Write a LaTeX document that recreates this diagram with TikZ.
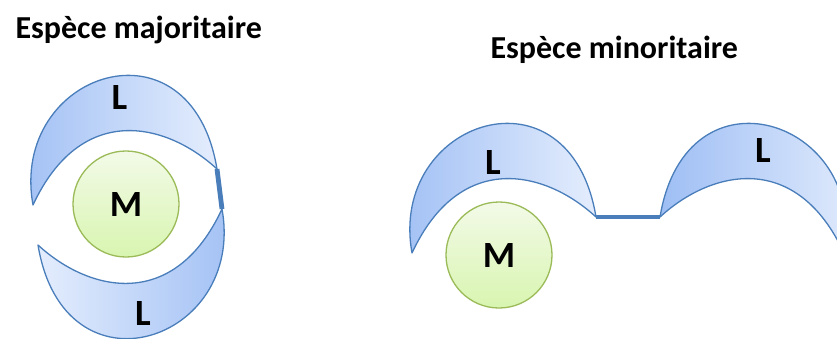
\documentclass[tikz,border=0pt]{standalone}
\usepackage{fontspec}
\setmainfont{Carlito}
\usepackage{tikz}
\usetikzlibrary{positioning}
\usepackage{xcolor}
\definecolor{lobeline}{RGB}{74,126,187}
\definecolor{lobedark}{RGB}{158,190,244}
\definecolor{lobelight}{RGB}{228,237,253}
\definecolor{coreline}{RGB}{155,187,89}
\definecolor{coretop}{RGB}{243,250,232}
\definecolor{corebot}{RGB}{216,245,176}

\begin{document}
\begin{tikzpicture}[x=1pt,y=-1pt,
  lobefill/.style={draw=lobeline,line width=1.3pt,line join=round},
  lobe/.pic={\path[lobefill,pic actions] (0,0) coordinate (-a) .. controls (-24,-133) and (158,-193) .. (184,-36) coordinate (-b) .. controls (133,-83) and (48,-103) .. (0,0) -- cycle;},
  core/.style={circle,draw=coreline,line width=1.3pt,top color=coretop,bottom color=corebot,minimum size=106pt,inner sep=0pt},
  bond/.style={draw=lobeline,line width=4.8pt},
  lbl/.style={font=\bfseries\fontsize{37}{40}\selectfont},
  title/.style={anchor=base west,font=\bfseries\fontsize{32}{36}\selectfont}]
\useasboundingbox (0,0) rectangle (837,338);
% majoritaire
\node[title] (tmaj) at (12,38) {Espèce majoritaire};
\pic[left color=lobedark,right color=lobelight] (up) at (33,205) {lobe};
\pic[rotate=180,left color=lobelight,right color=lobedark] (dn) at (222,209) {lobe};
\draw[bond] (up-b) -- (dn-a);
\node[core] (m1) at (126,204) {};
\node[lbl] at (m1) {M};
\node[lbl] (l1) at (119.5,97.5) {L};
\node[lbl] (l2) at (143,313) {L};
% minoritaire
\node[title] (tmin) at (487,58) {Espèce minoritaire};
\pic[left color=lobedark,right color=lobelight] (ll) at (412,253) {lobe};
\pic[xscale=-1,left color=lobedark,right color=lobelight] (rl) at (844,253) {lobe};
\draw[bond] (ll-b) -- (rl-b);
\node[core] (m2) at (499,255) {};
\node[lbl] at (m2) {M};
\node[lbl] (l3) at (493,162) {L};
\node[lbl] (l4) at (763,150) {L};
\end{tikzpicture}
\end{document}
